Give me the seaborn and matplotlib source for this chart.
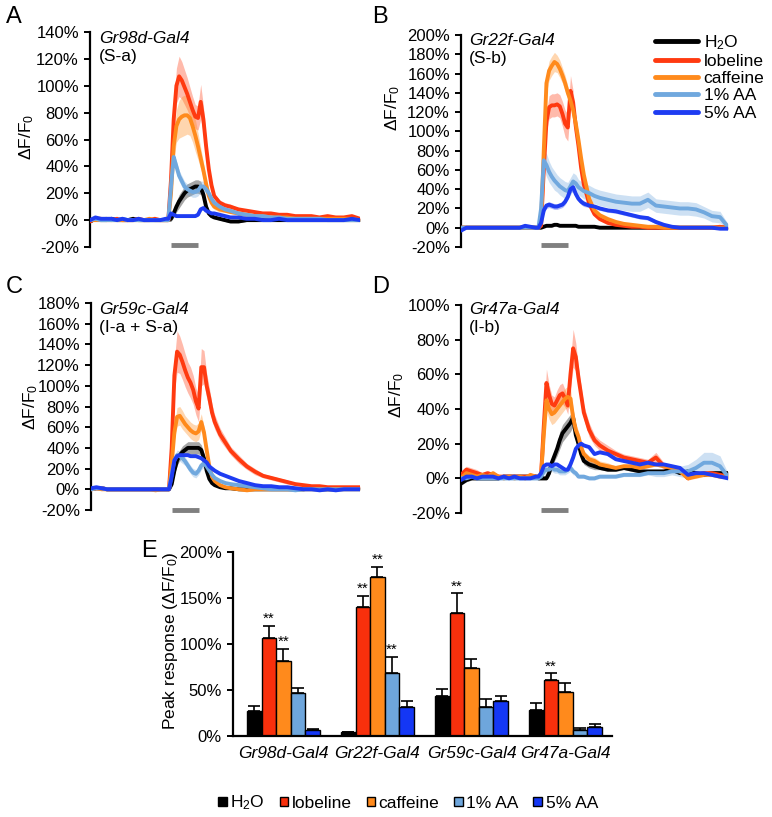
import numpy as np
import pandas as pd
import matplotlib
matplotlib.use('Agg')
import matplotlib.pyplot as plt
import seaborn as sns
from matplotlib.patches import Patch
from matplotlib.lines import Line2D

# ---------------- data ----------------
CONDS = ['H2O', 'lobeline', 'caffeine', '1% AA', '5% AA']
LEGEND_LABELS = ['H$_2$O', 'lobeline', 'caffeine', '1% AA', '5% AA']

# time (frames, % of trace length); stimulus 30-40
T = [0, 2, 4, 6, 8, 10, 12, 14, 16, 18, 20, 22, 24, 26, 28,
     29, 30, 31, 32, 33, 34, 35, 36, 37, 38, 39, 40, 41, 42, 43, 44, 45, 46,
     48, 50, 52, 55, 58, 61, 64, 67, 70, 73, 76, 79, 82, 85, 88, 91, 94, 97, 100]
STIM = [30, 40]

# Panel A  Gr98d-Gal4
A_H2O = [-1, 1, 0, 0, 1, 0, 0, 0, 1, 0, 0, 0, 0, 0, 0,
         0, 1, 5, 10, 14, 17, 20, 22, 23, 24, 25, 25, 24, 19, 10, 5, 3, 2,
         1, 0, -1, -1, 0, 0, 0, 0, 0, 0, 0, 0, 0, 0, 0, 0, 0, 0, 0]
A_H2O_SEM = [1, 1, 1, 1, 1, 1, 1, 1, 1, 1, 1, 1, 1, 1, 1,
             1, 2, 3, 4, 5, 5, 5, 5, 5, 5, 5, 5, 5, 4, 3, 2, 1, 1,
             1, 1, 1, 1, 1, 1, 1, 1, 1, 1, 1, 1, 1, 1, 1, 1, 1, 1, 1]
A_LOB = [-1, 1, 1, 0, 0, 1, 0, 0, 0, 1, 0, 0, 1, 0, 0,
         0, 30, 75, 100, 107, 104, 99, 94, 88, 82, 77, 76, 88, 75, 55, 38, 26, 18,
         13, 11, 10, 8, 7, 6, 5, 5, 4, 4, 3, 3, 3, 2, 3, 2, 2, 3, 1]
A_LOB_SEM = [1, 1, 1, 1, 1, 1, 1, 1, 1, 1, 1, 1, 1, 1, 1,
             1, 5, 10, 13, 15, 14, 13, 12, 11, 10, 9, 9, 13, 10, 6, 4, 3, 2,
             2, 2, 2, 1, 1, 1, 1, 1, 1, 1, 1, 1, 1, 1, 1, 1, 1, 1, 1]
A_CAF = [0, 0, 0, 1, 0, 0, 0, 0, 0, 0, 0, 1, 0, 0, 0,
         0, 20, 55, 70, 75, 77, 78, 78, 76, 70, 63, 55, 46, 37, 27, 18, 13, 10,
         8, 7, 6, 5, 4, 3, 3, 2, 2, 2, 1, 1, 1, 1, 1, 1, 1, 1, 0]
A_CAF_SEM = [1, 1, 1, 1, 1, 1, 1, 1, 1, 1, 1, 1, 1, 1, 1,
             1, 5, 10, 12, 14, 15, 15, 14, 13, 12, 12, 10, 8, 6, 4, 3, 2, 2,
             2, 1, 1, 1, 1, 1, 1, 1, 1, 1, 1, 1, 1, 1, 1, 1, 1, 1, 1]
A_AA1 = [0, 1, 0, 0, 0, 0, 1, 0, 0, 0, 0, 0, 0, 0, 0,
         0, 25, 47, 40, 33, 29, 25, 23, 22, 21, 21, 22, 25, 25, 23, 20, 16, 13,
         10, 8, 7, 5, 4, 3, 3, 2, 2, 1, 1, 1, 1, 1, 0, 0, 0, 0, 0]
A_AA1_SEM = [1, 1, 1, 1, 1, 1, 1, 1, 1, 1, 1, 1, 1, 1, 1,
             1, 3, 4, 4, 4, 4, 4, 4, 4, 4, 4, 4, 4, 4, 3, 3, 2, 2,
             2, 1, 1, 1, 1, 1, 1, 1, 1, 1, 1, 1, 1, 1, 1, 1, 1, 1, 1]
A_AA5 = [0, 2, 1, 1, 1, 0, 1, 0, 0, 1, 0, 0, 0, 0, 1,
         1, 5, 4, 3, 3, 3, 3, 3, 3, 3, 3, 4, 8, 9, 7, 6, 5, 5,
         4, 3, 2, 2, 1, 1, 0, 0, 1, 0, 0, 0, 0, 0, 0, 0, 0, 1, 0]

# Panel B  Gr22f-Gal4
B_H2O = [0, 0, 0, 0, 0, 0, 0, 0, 0, 0, 0, 0, 0, 0, 0,
         0, 0, 1, 2, 2, 2, 3, 3, 2, 2, 2, 2, 2, 2, 2, 1, 1, 1,
         1, 1, 0, 0, 0, 0, 0, 0, 0, 0, 0, 0, 0, 0, 0, 0, 0, 0, 0]
B_LOB = [0, 0, 0, 0, 0, 0, 0, 0, 0, 0, 0, 0, 0, 0, 0,
         0, 2, 60, 110, 125, 127, 127, 128, 126, 118, 108, 104, 142, 130, 105, 85, 62, 45,
         25, 14, 9, 5, 3, 2, 1, 1, 0, 0, 0, 0, 0, 0, 0, 0, 0, 1, 0]
B_LOB_SEM = [1, 1, 1, 1, 1, 1, 1, 1, 1, 1, 1, 1, 1, 1, 1,
             1, 2, 8, 10, 12, 12, 12, 12, 12, 13, 14, 14, 16, 12, 8, 6, 4, 3,
             2, 2, 1, 1, 1, 1, 1, 1, 1, 1, 1, 1, 1, 1, 1, 1, 1, 1, 1]
B_CAF = [0, 0, 0, 0, 0, 0, 0, 0, 0, 0, 0, 0, 0, 0, 0,
         0, 5, 80, 150, 163, 168, 172, 170, 165, 158, 150, 140, 132, 122, 108, 91, 72, 55,
         30, 18, 13, 9, 6, 4, 3, 2, 1, 1, 0, 0, 0, 0, 0, 0, 0, 0, 0]
B_CAF_SEM = [1, 1, 1, 1, 1, 1, 1, 1, 1, 1, 1, 1, 1, 1, 1,
             1, 2, 8, 10, 10, 10, 10, 9, 9, 8, 8, 7, 6, 5, 4, 3, 3, 2,
             2, 1, 1, 1, 1, 1, 1, 1, 1, 1, 1, 1, 1, 1, 1, 1, 1, 1, 1]
B_AA1 = [0, 0, 0, 0, 0, 0, 0, 0, 0, 0, 0, 0, 0, 0, 0,
         0, 20, 70, 65, 58, 53, 49, 46, 43, 41, 39, 38, 43, 48, 46, 42, 40, 38,
         36, 33, 31, 29, 27, 26, 25, 25, 29, 23, 22, 21, 20, 20, 19, 16, 12, 11, 1]
B_AA1_SEM = [1, 1, 1, 1, 1, 1, 1, 1, 1, 1, 1, 1, 1, 1, 1,
             1, 4, 10, 12, 11, 10, 10, 9, 9, 9, 9, 9, 9, 9, 9, 8, 8, 8,
             8, 8, 8, 8, 8, 8, 8, 8, 8, 7, 7, 7, 7, 7, 7, 6, 6, 6, 3]
B_AA5 = [-3, 0, 0, 0, 0, 0, 0, 0, 0, 0, 0, 0, 2, 1, 0,
         0, 5, 18, 23, 24, 23, 22, 22, 23, 24, 27, 32, 40, 42, 35, 30, 27, 25,
         23, 22, 20, 18, 17, 15, 13, 11, 10, 6, 3, 1, 0, 0, 0, 0, 0, -1, -1]
B_AA5_SEM = [1, 1, 1, 1, 1, 1, 1, 1, 1, 1, 1, 1, 1, 1, 1,
             1, 2, 3, 3, 3, 3, 3, 3, 3, 3, 3, 3, 4, 4, 3, 3, 3, 3,
             2, 2, 2, 2, 2, 2, 2, 2, 2, 2, 1, 1, 1, 1, 1, 1, 1, 1, 1]

# Panel C  Gr59c-Gal4
C_H2O = [0, 1, 1, 0, 0, 0, 0, 0, 0, 0, 0, 0, 0, 0, 0,
         0, 5, 18, 28, 33, 36, 38, 40, 40, 40, 40, 40, 38, 30, 18, 10, 6, 4,
         2, 1, 1, 0, 0, 0, 0, 0, 0, 0, 0, 0, 1, 0, 0, 0, 1, 1, 1]
C_H2O_SEM = [1, 1, 1, 1, 1, 1, 1, 1, 1, 1, 1, 1, 1, 1, 1,
             1, 2, 4, 5, 5, 6, 6, 6, 6, 6, 6, 6, 5, 4, 3, 2, 1, 1,
             1, 1, 1, 1, 1, 1, 1, 1, 1, 1, 1, 1, 1, 1, 1, 1, 1, 1, 1]
C_LOB = [0, 1, 1, 0, 0, 0, 0, 0, 0, 0, 0, 0, 0, 0, 0,
         0, 40, 110, 133, 130, 123, 115, 108, 103, 96, 85, 78, 118, 118, 100, 88, 74, 65,
         53, 45, 37, 29, 22, 17, 13, 11, 9, 7, 5, 4, 3, 3, 2, 2, 2, 2, 2]
C_LOB_SEM = [1, 1, 1, 1, 1, 1, 1, 1, 1, 1, 1, 1, 1, 1, 1,
             1, 5, 15, 20, 18, 17, 16, 15, 15, 14, 13, 13, 18, 16, 12, 10, 8, 7,
             6, 5, 4, 4, 3, 3, 2, 2, 2, 2, 1, 1, 1, 1, 1, 1, 1, 1, 1]
C_CAF = [0, 1, 0, 0, 0, 0, 0, 0, 0, 0, 0, 0, -1, 0, 0,
         0, 25, 55, 70, 71, 67, 63, 60, 57, 55, 54, 56, 65, 55, 38, 22, 12, 8,
         4, 2, 1, 0, -1, 0, 0, 0, 0, 0, 0, 0, 0, 0, 0, 0, 0, 0, 0]
C_CAF_SEM = [1, 1, 1, 1, 1, 1, 1, 1, 1, 1, 1, 1, 1, 1, 1,
             1, 3, 7, 9, 9, 9, 8, 8, 8, 8, 8, 8, 8, 6, 4, 3, 2, 1,
             1, 1, 1, 1, 1, 1, 1, 1, 1, 1, 1, 1, 1, 1, 1, 1, 1, 1, 1]
C_AA1 = [0, 1, 1, 0, 0, 0, 0, 0, 0, 0, 0, 0, 0, 0, 0,
         0, 15, 28, 33, 32, 30, 27, 23, 19, 16, 15, 18, 23, 25, 22, 18, 14, 11,
         8, 6, 5, 4, 3, 2, 1, 0, 0, 0, -1, 0, 0, 0, 0, 0, 0, 0, 0]
C_AA1_SEM = [1, 1, 1, 1, 1, 1, 1, 1, 1, 1, 1, 1, 1, 1, 1,
             1, 3, 4, 5, 5, 5, 4, 4, 4, 4, 4, 4, 4, 4, 3, 3, 2, 2,
             1, 1, 1, 1, 1, 1, 1, 1, 1, 1, 1, 1, 1, 1, 1, 1, 1, 1, 1]
C_AA5 = [1, 2, 1, 0, 0, 0, 0, 0, 0, 0, 0, 0, 0, 0, 0,
         0, 12, 28, 32, 33, 33, 33, 33, 32, 32, 32, 31, 30, 28, 26, 22, 20, 18,
         15, 13, 11, 8, 6, 4, 3, 3, 2, 2, 1, 0, 0, -1, 0, -1, 0, 0, 0]

# Panel D  Gr47a-Gal4
D_H2O = [-3, -1, 0, 0, 0, 0, 0, 0, 1, 1, 1, 1, 1, 1, 1,
         0, 0, 0, 0, 3, 9, 13, 17, 22, 26, 28, 30, 32, 35, 25, 20, 14, 10,
         8, 7, 6, 5, 5, 6, 5, 4, 4, 4, 4, 5, 3, 4, 3, 2, 3, 3, 3]
D_H2O_SEM = [1, 1, 1, 1, 1, 1, 1, 1, 1, 1, 1, 1, 1, 1, 1,
             1, 1, 1, 1, 2, 3, 3, 4, 5, 5, 5, 5, 5, 5, 4, 3, 2, 2,
             2, 2, 1, 1, 1, 1, 1, 1, 1, 1, 1, 1, 1, 1, 1, 1, 1, 1, 1]
D_LOB = [2, 5, 4, 3, 2, 3, 2, 1, 1, 1, 1, 1, 1, 1, 1,
         1, 2, 30, 55, 48, 43, 42, 45, 48, 49, 46, 42, 60, 75, 70, 58, 48, 38,
         28, 22, 19, 16, 14, 12, 11, 10, 9, 12, 7, 6, 5, 0, 2, 3, 3, 2, 1]
D_LOB_SEM = [2, 2, 2, 2, 1, 1, 1, 1, 1, 1, 1, 1, 1, 1, 1,
             1, 1, 6, 8, 6, 5, 5, 6, 6, 6, 5, 5, 8, 11, 8, 6, 5, 4,
             4, 3, 3, 3, 2, 2, 2, 2, 2, 3, 2, 2, 2, 1, 1, 1, 1, 1, 1]
D_CAF = [0, 3, 2, 1, 2, 1, 3, 1, 0, 1, 0, 1, 0, 2, 1,
         1, 2, 25, 45, 40, 37, 38, 40, 42, 44, 46, 47, 46, 35, 28, 24, 18, 14,
         11, 10, 8, 7, 6, 7, 7, 6, 7, 8, 7, 6, 4, 0, 1, 2, 2, 1, 1]
D_CAF_SEM = [1, 1, 1, 1, 1, 1, 1, 1, 1, 1, 1, 1, 1, 1, 1,
             1, 1, 5, 6, 6, 6, 6, 6, 6, 6, 6, 6, 6, 5, 4, 3, 3, 2,
             2, 2, 2, 2, 1, 1, 1, 1, 1, 1, 1, 1, 1, 1, 1, 1, 1, 1, 1]
D_AA1 = [0, 0, 1, 0, 0, 0, 0, 0, 0, 0, 0, 0, 0, 0, 0,
         0, 1, 4, 5, 5, 6, 5, 5, 4, 4, 4, 5, 6, 4, 3, 1, 1, 1,
         0, 0, 1, 1, 1, 2, 2, 2, 3, 3, 3, 4, 4, 4, 6, 9, 9, 7, 1]
D_AA1_SEM = [1, 1, 1, 1, 1, 1, 1, 1, 1, 1, 1, 1, 1, 1, 1,
             1, 1, 2, 2, 2, 2, 2, 2, 2, 2, 2, 2, 2, 2, 1, 1, 1, 1,
             1, 1, 1, 1, 1, 1, 1, 1, 1, 2, 2, 2, 3, 4, 5, 6, 6, 6, 2]
D_AA5 = [-1, 1, 1, 0, 1, 1, 1, 0, 1, 0, 1, 0, 0, 0, 1,
         1, 3, 7, 8, 8, 7, 8, 8, 7, 6, 5, 5, 8, 12, 17, 19, 20, 19,
         18, 14, 15, 14, 11, 10, 9, 8, 9, 8, 8, 7, 6, 2, 3, 3, 2, 1, 0]

# Panel E  peak responses (%)
GENOS = ['Gr98d-Gal4', 'Gr22f-Gal4', 'Gr59c-Gal4', 'Gr47a-Gal4']
PEAK_H2O = [27, 4, 44, 28]
PEAK_LOB = [107, 140, 134, 61]
PEAK_CAF = [82, 173, 74, 48]
PEAK_AA1 = [47, 68, 32, 7]
PEAK_AA5 = [7, 31, 38, 10]
SEM_H2O = [6, 0.5, 7, 8]
SEM_LOB = [13, 12, 21, 7]
SEM_CAF = [13, 11, 10, 10]
SEM_AA1 = [5, 18, 8, 2]
SEM_AA5 = [1, 7, 5, 3]
SIGNIF = [(0, 1), (0, 2), (1, 1), (1, 2), (1, 3), (2, 1), (3, 1)]  # (genotype, condition) marked **

# ---------------- style ----------------
LINE_COLORS = ['#000000', '#FF3A10', '#FF8A1C', '#70A8DE', '#1E3CF2']
BAR_COLORS = ['#000000', '#F8300C', '#FF8A1C', '#6EA6DC', '#1437F5']
STIM_COLOR = '#808080'

sns.set_style('ticks')
plt.rcParams['font.family'] = ['Liberation Sans', 'DejaVu Sans']
plt.rcParams['mathtext.fontset'] = 'custom'
plt.rcParams['mathtext.rm'] = 'Liberation Sans'
plt.rcParams['mathtext.it'] = 'Liberation Sans:italic'
plt.rcParams['axes.unicode_minus'] = False
for key in ['text.color', 'axes.labelcolor', 'xtick.color', 'ytick.color', 'axes.edgecolor']:
    plt.rcParams[key] = 'black'

W, H = 772, 817
fig = plt.figure(figsize=(W / 100, H / 100), dpi=100)


def fx(px):
    return px / W


def fy(py):
    return 1 - py / H


def add_axes(x0, y0, x1, y1):
    return fig.add_axes([fx(x0), fy(y1), fx(x1) - fx(x0), fy(y0) - fy(y1)])


panels = [
    dict(rect=(90, 32, 360, 247), ylim=(-20, 140), step=20,
         series=[A_H2O, A_LOB, A_CAF, A_AA1, A_AA5],
         sems=[A_H2O_SEM, A_LOB_SEM, A_CAF_SEM, A_AA1_SEM, None],
         stim_y=-18.5, lab=(-0.2, 0.51)),
    dict(rect=(461, 35, 728, 247), ylim=(-20, 200), step=20,
         series=[B_H2O, B_LOB, B_CAF, B_AA1, B_AA5],
         sems=[None, B_LOB_SEM, B_CAF_SEM, B_AA1_SEM, B_AA5_SEM],
         stim_y=-18, lab=(-0.222, 0.655)),
    dict(rect=(91, 303, 360, 510), ylim=(-20, 180), step=20,
         series=[C_H2O, C_LOB, C_CAF, C_AA1, C_AA5],
         sems=[C_H2O_SEM, C_LOB_SEM, C_CAF_SEM, C_AA1_SEM, None],
         stim_y=-20, lab=(-0.188, 0.5)),
    dict(rect=(461, 305, 728, 513), ylim=(-20, 100), step=20,
         series=[D_H2O, D_LOB, D_CAF, D_AA1, D_AA5],
         sems=[D_H2O_SEM, D_LOB_SEM, D_CAF_SEM, D_AA1_SEM, None],
         stim_y=-18.3, lab=(-0.205, 0.567)),
]

for p in panels:
    ax = add_axes(*p['rect'])
    df = pd.DataFrame({
        't': T * len(CONDS),
        'v': sum(p['series'], []),
        'cond': [c for c in CONDS for _ in T],
    })
    for cond, vals, sem, col in zip(CONDS, p['series'], p['sems'], LINE_COLORS):
        if sem is not None:
            v = np.array(vals, float)
            s = np.array(sem, float)
            ax.fill_between(T, v - s, v + s, color=col, alpha=0.35, lw=0, zorder=1)
    sns.lineplot(data=df, x='t', y='v', hue='cond', hue_order=CONDS,
                 palette=LINE_COLORS, linewidth=2.8, legend=False, ax=ax,
                 errorbar=None, sort=False, zorder=3)
    ax.plot(STIM, [p['stim_y'], p['stim_y']], color=STIM_COLOR, lw=3.5,
            solid_capstyle='butt', clip_on=False, zorder=4)
    lo, hi = p['ylim']
    ax.set_xlim(0, 100)
    ax.set_ylim(lo, hi)
    ticks = list(range(lo, hi + 1, p['step']))
    ax.set_yticks(ticks)
    ax.set_yticklabels([f'{t}%' for t in ticks])
    ax.set_xticks([])
    ax.set_xlabel('')
    for s in ['top', 'right', 'bottom']:
        ax.spines[s].set_visible(False)
    ax.spines['left'].set_linewidth(1.6)
    ax.tick_params(axis='y', length=4.5, width=1.4, labelsize=12, pad=3.5)
    ax.set_ylabel('ΔF/F$_0$', fontsize=12.5)
    ax.yaxis.set_label_coords(*p['lab'])
    ax.patch.set_alpha(0)

# panel letters and genotype annotations
for letter, (x, y) in zip('ABCDE', [(6, 6), (372, 6), (6, 276), (372, 276), (141, 540)]):
    fig.text(fx(x), fy(y), letter, fontsize=17, ha='left', va='top')

annots = [('Gr98d-Gal4', '(S-a)', 99, 31), ('Gr22f-Gal4', '(S-b)', 469, 33),
          ('Gr59c-Gal4', '(I-a + S-a)', 99, 302), ('Gr47a-Gal4', '(I-b)', 469, 302)]
for g, s, x, y in annots:
    fig.text(fx(x), fy(y), g, fontsize=12.5, style='italic', ha='left', va='top')
    fig.text(fx(x), fy(y + 18), s, fontsize=12.5, ha='left', va='top')

# legend in panel B
handles = [Line2D([0], [0], color=c, lw=3.5) for c in LINE_COLORS]
fig.legend(handles, LEGEND_LABELS, loc='upper left', bbox_to_anchor=(fx(655), fy(33)),
           frameon=False, fontsize=12.5, handlelength=2.5, handletextpad=0.3,
           labelspacing=0.12, borderpad=0, borderaxespad=0)

# ---------------- panel E ----------------
axE = add_axes(233, 552, 612, 736)
PEAKS = [PEAK_H2O, PEAK_LOB, PEAK_CAF, PEAK_AA1, PEAK_AA5]
SEMS = [SEM_H2O, SEM_LOB, SEM_CAF, SEM_AA1, SEM_AA5]
dfE = pd.DataFrame({
    'geno': GENOS * len(CONDS),
    'cond': [c for c in CONDS for _ in GENOS],
    'val': sum(PEAKS, []),
})
sns.barplot(data=dfE, x='geno', y='val', hue='cond', order=GENOS, hue_order=CONDS,
            palette=BAR_COLORS, width=0.777, edgecolor='black', linewidth=1,
            errorbar=None, legend=False, ax=axE, saturation=1)
bar_containers = list(axE.containers)
for ci, cont in enumerate(bar_containers):
    for gi, bar in enumerate(list(cont.patches)):
        x = bar.get_x() + bar.get_width() / 2
        h = bar.get_height()
        sem = SEMS[ci][gi]
        axE.errorbar([x], [h], yerr=[[0], [sem]], fmt='none', ecolor='black',
                     elinewidth=1.2, capsize=4.5, capthick=1.2, zorder=5)
        if (gi, ci) in SIGNIF:
            axE.annotate('**', (x, h + sem), xytext=(0, 0), textcoords='offset points',
                         ha='center', va='bottom', fontsize=11)
axE.set_xlim(-0.537, 3.495)
axE.set_ylim(0, 200)
axE.set_yticks([0, 50, 100, 150, 200])
axE.set_yticklabels(['0%', '50%', '100%', '150%', '200%'])
axE.set_xlabel('')
axE.set_ylabel('Peak response (ΔF/F$_0$)', fontsize=12.5)
axE.yaxis.set_label_coords(-0.14, 0.516)
for s in ['top', 'right']:
    axE.spines[s].set_visible(False)
axE.spines['left'].set_linewidth(1.6)
axE.spines['bottom'].set_linewidth(1.6)
axE.tick_params(axis='y', length=4.5, width=1.4, labelsize=12, pad=3.5)
axE.tick_params(axis='x', length=0, labelsize=12.5, pad=7)
for lbl in axE.get_xticklabels():
    lbl.set_style('italic')
axE.patch.set_alpha(0)

bar_handles = [Patch(facecolor=c, edgecolor='black', lw=1) for c in BAR_COLORS]
fig.legend(bar_handles, LEGEND_LABELS, loc='center', bbox_to_anchor=(fx(408), fy(803)),
           ncol=5, frameon=False, fontsize=12.5, handlelength=0.5, handleheight=0.5,
           handletextpad=0.2, columnspacing=0.85, borderpad=0, borderaxespad=0)

fig.savefig('out.png', dpi=100)
